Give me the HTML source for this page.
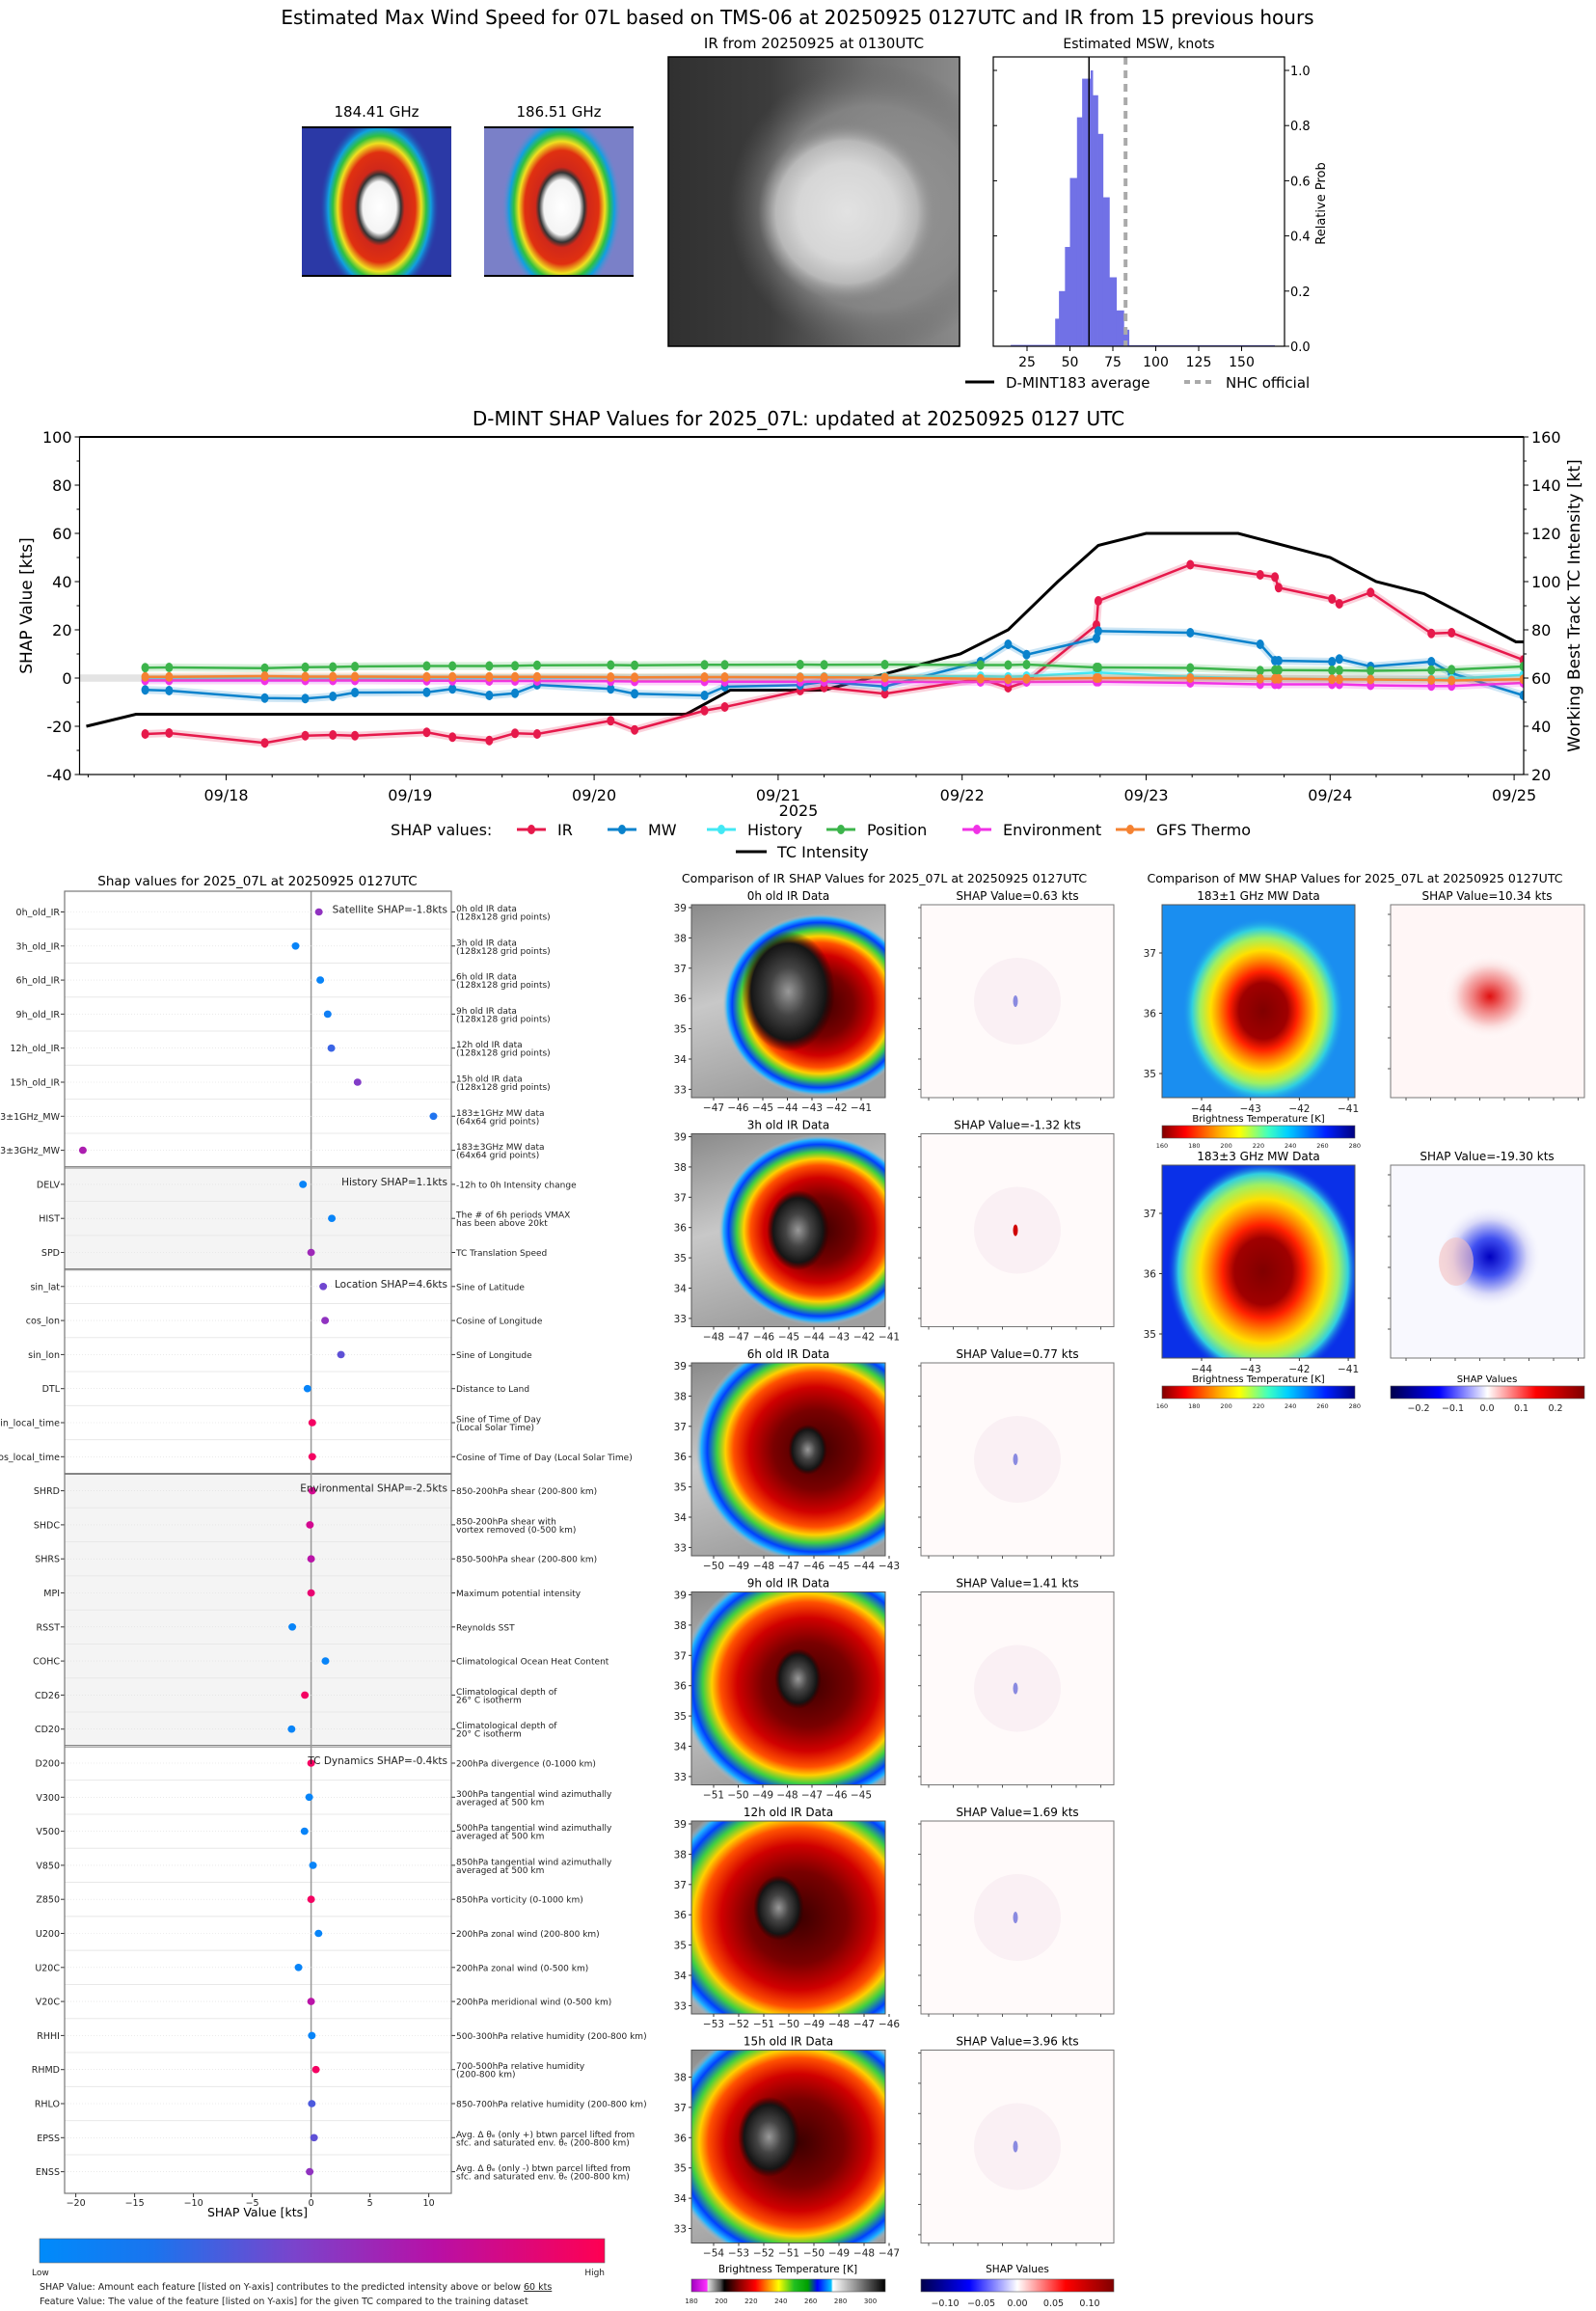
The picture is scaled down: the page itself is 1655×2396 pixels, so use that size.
<!DOCTYPE html>
<html><head><meta charset="utf-8"><title>D-MINT 07L</title>
<style>
html,body{margin:0;padding:0;background:#fff;}
svg{display:block;font-family:"DejaVu Sans","Liberation Sans",sans-serif;}
</style></head>
<body>
<svg id="fig" width="1655" height="2396" viewBox="0 0 1655 2396" xmlns="http://www.w3.org/2000/svg">
<defs id="defs"></defs>
<rect x="0" y="0" width="1655" height="2396" fill="#fff"/>
</svg>
<script>
// ===== time-series data =====
const tsDays=[-0.44,-0.31,0.21,0.43,0.58,0.70,1.09,1.23,1.43,1.57,1.69,2.09,2.22,2.60,2.71,3.12,3.25,3.58,4.10,4.25,4.35,4.73,4.74,5.24,5.62,5.70,5.72,6.01,6.05,6.22,6.55,6.66,7.05];
const irVals=[-23.2,-22.8,-26.9,-23.9,-23.6,-23.9,-22.5,-24.5,-25.9,-22.9,-23.2,-17.7,-21.5,-13.5,-12,-5.2,-3.9,-6.5,-0.3,-4,-1.5,22,32,47,42.8,41.9,37.5,32.8,30.8,35.5,18.5,18.8,7.5];
const mwVals=[-4.9,-5.2,-8.3,-8.5,-7.6,-6,-5.9,-4.5,-7.2,-6.3,-2.8,-4.5,-6.5,-7.2,-3.6,-2.9,-1.5,-3.5,6.8,14,9.7,16.5,19.5,18.8,14,7.2,7.2,6.8,7.9,4.8,6.8,2,-7.2];
const histVals=[-0.3,-0.3,-0.2,-0.2,-0.2,-0.1,-0.1,0,0,0,0.1,0.2,0.2,0.3,0.3,0.4,0.5,0.5,0.8,0.5,0.8,2.3,2.3,0.5,-0.2,-0.3,-0.3,-0.5,-0.5,-0.5,-0.5,-0.3,1.3];
const posVals=[4.3,4.4,4.1,4.5,4.6,4.8,5.0,5.0,5.0,5.1,5.3,5.4,5.3,5.5,5.5,5.6,5.5,5.6,5.4,5.4,5.6,4.4,4.4,4.2,3.1,3.3,3.3,3.2,3.2,3.0,3.3,3.5,4.8];
const envVals=[-1,-1,-1,-1,-1,-1,-1.1,-1.1,-1.2,-1.2,-1.2,-1.3,-1.4,-1.4,-1.5,-1.5,-1.5,-1.6,-1.6,-1.6,-1.6,-1.5,-1.5,-2,-2.6,-2.6,-2.6,-2.6,-2.6,-3,-3.3,-3.3,-2];
const gfsVals=[0.5,0.5,0.8,0.6,0.6,0.6,0.5,0.5,0.5,0.5,0.5,0.4,0.3,0.4,0.4,0.3,0.3,0.2,-0.3,-0.5,-0.3,0,0,0,-0.3,-0.3,-0.3,-0.5,-0.5,-0.6,-0.8,-1,-0.5];
const tcDays=[-0.76,-0.49,2.50,2.74,3.25,3.99,4.25,4.52,4.74,5.00,5.50,6.00,6.25,6.51,7.01,7.05];
const tcVals=[40,45,45,55,55,70,80,100,115,120,120,110,100,95,75,75];
const tsDateLabels=["09/18","09/19","09/20","09/21","09/22","09/23","09/24","09/25"];
const tsLeftTicks=[-40,-20,0,20,40,60,80,100];
const tsRightTicks=[20,40,60,80,100,120,140,160];
// ===== histogram data =====
const binLefts=[41.4,43.6,47.1,50.0,54.1,57.1,62.0,63.3,66.3,69.3,73.0,77.1,81.4];
const binRights=[43.6,47.1,50.0,54.1,57.1,62.0,63.3,66.3,69.3,73.0,77.1,81.4,84.4];
const binProbs=[0.10,0.20,0.36,0.61,0.83,0.97,1.0,0.91,0.77,0.54,0.25,0.13,0.06];
const tailLefts=[15.5,84.4];
const tailRights=[41.4,169.4];
const tailProbs=[0.005,0.004];
const dmintMean=[61.1];
const nhcOfficial=[82.4];
const histXTicks=[25,50,75,100,125,150];
const histYTicks=[0.0,0.2,0.4,0.6,0.8,1.0];
// ===== feature SHAP data =====
const featNames=["0h_old_IR","3h_old_IR","6h_old_IR","9h_old_IR","12h_old_IR","15h_old_IR","183±1GHz_MW","183±3GHz_MW","DELV","HIST","SPD","sin_lat","cos_lon","sin_lon","DTL","sin_local_time","cos_local_time","SHRD","SHDC","SHRS","MPI","RSST","COHC","CD26","CD20","D200","V300","V500","V850","Z850","U200","U20C","V20C","RHHI","RHMD","RHLO","EPSS","ENSS"];
const featShap=[0.66,-1.32,0.78,1.41,1.72,3.95,10.4,-19.4,-0.69,1.76,0,1.03,1.19,2.54,-0.31,0.1,0.1,0.1,-0.1,0,0,-1.6,1.22,-0.53,-1.66,0,-0.16,-0.56,0.16,0,0.63,-1.07,0,0.06,0.41,0.06,0.25,-0.12];
const featValue=[0.55,0.05,0.05,0.1,0.3,0.5,0.2,0.65,0.05,0.05,0.6,0.45,0.55,0.4,0.05,0.95,0.95,0.8,0.8,0.7,0.9,0.05,0.05,0.95,0.05,0.95,0.05,0.05,0.05,0.95,0.05,0.05,0.7,0.05,0.95,0.35,0.4,0.55];
const featDesc=[["0h old IR data","(128x128 grid points)"],["3h old IR data","(128x128 grid points)"],["6h old IR data","(128x128 grid points)"],["9h old IR data","(128x128 grid points)"],["12h old IR data","(128x128 grid points)"],["15h old IR data","(128x128 grid points)"],["183±1GHz MW data","(64x64 grid points)"],["183±3GHz MW data","(64x64 grid points)"],["-12h to 0h Intensity change"],["The # of 6h periods VMAX","has been above 20kt"],["TC Translation Speed"],["Sine of Latitude"],["Cosine of Longitude"],["Sine of Longitude"],["Distance to Land"],["Sine of Time of Day","(Local Solar Time)"],["Cosine of Time of Day (Local Solar Time)"],["850-200hPa shear (200-800 km)"],["850-200hPa shear with","vortex removed (0-500 km)"],["850-500hPa shear (200-800 km)"],["Maximum potential intensity"],["Reynolds SST"],["Climatological Ocean Heat Content"],["Climatological depth of","26° C isotherm"],["Climatological depth of","20° C isotherm"],["200hPa divergence (0-1000 km)"],["300hPa tangential wind azimuthally","averaged at 500 km"],["500hPa tangential wind azimuthally","averaged at 500 km"],["850hPa tangential wind azimuthally","averaged at 500 km"],["850hPa vorticity (0-1000 km)"],["200hPa zonal wind (200-800 km)"],["200hPa zonal wind (0-500 km)"],["200hPa meridional wind (0-500 km)"],["500-300hPa relative humidity (200-800 km)"],["700-500hPa relative humidity","(200-800 km)"],["850-700hPa relative humidity (200-800 km)"],["Avg. Δ θₑ (only +) btwn parcel lifted from","sfc. and saturated env. θₑ (200-800 km)"],["Avg. Δ θₑ (only -) btwn parcel lifted from","sfc. and saturated env. θₑ (200-800 km)"]];
const groupStart=[0,8,11,17,25];
const groupEnd=[7,10,16,24,37];
const groupLabels=["Satellite SHAP=-1.8kts","History SHAP=1.1kts","Location SHAP=4.6kts","Environmental SHAP=-2.5kts","TC Dynamics SHAP=-0.4kts"];
const groupShaded=[false,true,false,true,false];
const shapXTicks=[-20,-15,-10,-5,0,5,10];
// ===== IR comparison panels =====
const irRowTitles=["0h old IR Data","3h old IR Data","6h old IR Data","9h old IR Data","12h old IR Data","15h old IR Data"];
const irShapTitles=["SHAP Value=0.63 kts","SHAP Value=-1.32 kts","SHAP Value=0.77 kts","SHAP Value=1.41 kts","SHAP Value=1.69 kts","SHAP Value=3.96 kts"];
const irLonStart=[-47,-48,-50,-51,-53,-54];
const irLonEnd=[-41,-41,-43,-45,-46,-47];
const irLatTop=[39,39,39,39,39,38];

const svg=document.getElementById('fig');
const defs=document.getElementById('defs');
const NS='http://www.w3.org/2000/svg';
function E(tag,attrs,parent){const e=document.createElementNS(NS,tag);for(const k in attrs)e.setAttribute(k,attrs[k]);(parent||svg).appendChild(e);return e;}
function T(x,y,s,attrs,parent){const a=Object.assign({x:x,y:y,'font-size':12,fill:'#000'},attrs||{});const e=E('text',a,parent);e.textContent=s;return e;}
function G(parent){return E('g',{},parent);}
function mns(v){return (v<0?'\u2212':'')+Math.abs(v);}
function clipG(id,x,y,w,h,parent){const cp=E('clipPath',{id:id},defs);E('rect',{x:x,y:y,width:w,height:h},cp);return E('g',{'clip-path':'url(#'+id+')'},parent);}

let el;
el=T(827,25,'Estimated Max Wind Speed for 07L based on TMS-06 at 20250925 0127UTC and IR from 15 previous hours',{'font-size':20,'text-anchor':'middle'});



function radial(id,stops,cx,cy,rx){const g=E('radialGradient',{id:id,cx:cx,cy:cy,r:rx},defs);stops.forEach(s=>E('stop',{offset:s[0],'stop-color':s[1],'stop-opacity':s.length>2?s[2]:1},g));return g;}
function linear(id,stops,x2,y2){const g=E('linearGradient',{id:id,x1:0,y1:0,x2:x2===undefined?1:x2,y2:y2===undefined?0:y2},defs);stops.forEach(s=>E('stop',{offset:s[0],'stop-color':s[1],'stop-opacity':s.length>2?s[2]:1},g));return g;}

// MW top panels
radial('mw184',[[0,'#fff'],[0.28,'#f4f4f4'],[0.36,'#333'],[0.42,'#d0281a'],[0.6,'#e03010'],[0.7,'#f0e020'],[0.78,'#30c040'],[0.86,'#10a0e0'],[1,'#2a3aa8',0]],'0.5','0.5','0.5');
radial('mw186',[[0,'#fff'],[0.3,'#f4f4f4'],[0.38,'#333'],[0.44,'#d0281a'],[0.62,'#e03010'],[0.72,'#f0e020'],[0.8,'#30c040'],[0.88,'#10a0e0'],[1,'#7b82cc',0]],'0.5','0.5','0.5');
[[313,468,'#2b39a6','mw184','184.41 GHz','mw-184-panel'],[502,657,'#7a80c8','mw186','186.51 GHz','mw-186-panel']].forEach((p,i)=>{
  const g=G();
  
  
  const cg=clipG('mwtop'+i,p[0],132,p[1]-p[0],154,g);
  E('rect',{x:p[0],y:132,width:p[1]-p[0],height:154,fill:p[2]},cg);
  E('ellipse',{cx:(p[0]+p[1])/2+3,cy:215,rx:62,ry:95,fill:'url(#'+p[3]+')'},cg);
  E('line',{x1:p[0],x2:p[1],y1:132,y2:132,stroke:'#000','stroke-width':2},g);
  E('line',{x1:p[0],x2:p[1],y1:286,y2:286,stroke:'#000','stroke-width':2},g);
  const t=T((p[0]+p[1])/2,121,p[4],{'font-size':15,'text-anchor':'middle'},g);
  
  
});
// IR top panel
linear('irbg',[[0,'#303030'],[0.35,'#3c3c3c'],[0.7,'#707070'],[1,'#8a8a8a']]);
radial('irblob',[[0,'#e2e2e2'],[0.55,'#d6d6d6'],[0.8,'#b8b8b8'],[1,'#909090',0]],'0.5','0.5','0.5');
radial('irhalo',[[0,'#a0a0a0'],[0.7,'#8a8a8a'],[1,'#606060',0]],'0.5','0.5','0.5');
el=G();


const irTop=clipG('irtopclip',693,59,302,300,el);
E('rect',{x:693,y:59,width:302,height:300,fill:'url(#irbg)'},irTop);
E('ellipse',{cx:905,cy:215,rx:150,ry:150,fill:'url(#irhalo)',opacity:0.8},irTop);
E('ellipse',{cx:878,cy:220,rx:92,ry:92,fill:'url(#irblob)'},irTop);
E('rect',{x:693,y:59,width:302,height:300,fill:'none',stroke:'#000','stroke-width':1.5},el);
el=T(844,50,'IR from 20250925 at 0130UTC',{'font-size':15,'text-anchor':'middle'});



// histogram
const HB0=1030,HB1=1332,HT=59,HBt=359;
function HX(k){return 1020.5+k*1.78;}
function HY(p){return HBt-p*(HBt-73);}
const hg=G();


const hc=clipG('histclip',HB0,HT,HB1-HB0,HBt-HT,hg);
binLefts.forEach((b,i)=>{
  const r=E('rect',{x:HX(b),y:HY(binProbs[i]),width:HX(binRights[i])-HX(b)+0.3,height:HBt-HY(binProbs[i]),fill:'#7171e6'},hc);
  
  
});
tailLefts.forEach((b,i)=>{
  const r=E('rect',{x:HX(b),y:HY(tailProbs[i]),width:HX(tailRights[i])-HX(b),height:HBt-HY(tailProbs[i]),fill:'#7171e6'},hc);
  
  
});
el=E('line',{x1:HX(dmintMean[0]),x2:HX(dmintMean[0]),y1:HT,y2:HBt,stroke:'#000','stroke-width':1.5},hg);


el=E('line',{x1:HX(nhcOfficial[0]),x2:HX(nhcOfficial[0]),y1:HT,y2:HBt,stroke:'#aaa','stroke-width':4,'stroke-dasharray':'8,6'},hg);


E('rect',{x:HB0,y:HT,width:HB1-HB0,height:HBt-HT,fill:'none',stroke:'#000','stroke-width':1.2},hg);
histXTicks.forEach(v=>{E('line',{x1:HX(v),x2:HX(v),y1:HBt,y2:HBt+5,stroke:'#000'},hg);
  const t=T(HX(v),HBt+21,String(v),{'font-size':14,'text-anchor':'middle'},hg);
  
  });
histYTicks.forEach(v=>{E('line',{x1:HB1,x2:HB1+5,y1:HY(v),y2:HY(v),stroke:'#000'},hg);
  E('line',{x1:HB0,x2:HB0+4,y1:HY(v),y2:HY(v),stroke:'#000'},hg);
  const t=T(HB1+6,HY(v)+5,v.toFixed(1),{'font-size':13},hg);
  
  });
el=T(1181,50,'Estimated MSW, knots',{'font-size':14,'text-anchor':'middle'},hg);


el=T(0,0,'Relative Prob',{'font-size':13,'text-anchor':'middle',transform:'translate(1374,211) rotate(-90)'},hg);


el=E('line',{x1:1001,x2:1031,y1:396,y2:396,stroke:'#000','stroke-width':3});


el=T(1043,402,'D-MINT183 average',{'font-size':15});


el=E('line',{x1:1228,x2:1258,y1:396,y2:396,stroke:'#aaa','stroke-width':4,'stroke-dasharray':'6,5'});


el=T(1271,402,'NHC official',{'font-size':15});



// ================= TIME SERIES =================
const AX0=82.5,AX1=1580,AY0=453,AY1=803;
function X(d){return 234.5+d*190.8;}
function Y(v){return AY0+(100-v)*(AY1-AY0)/140;}
function YR(v){return Y(v-60);}
const tsg=G();


el=T(828,441,'D-MINT SHAP Values for 2025_07L: updated at 20250925 0127 UTC',{'font-size':20,'text-anchor':'middle'},tsg);


el=E('rect',{x:AX0,y:Y(1.5),width:AX1-AX0,height:Y(-1.5)-Y(1.5),fill:'#e4e4e4'},tsg);


const plotG=clipG('tsclip',AX0,AY0,AX1-AX0,AY1-AY0,tsg);
const seriesList=[['ir',irVals,'#e6194b'],['mw',mwVals,'#0a82cc'],['history',histVals,'#42e8f4'],['position',posVals,'#3cb44b'],['environment',envVals,'#f032e6'],['gfs-thermo',gfsVals,'#f58231']];
el=E('polyline',{points:tcDays.map((d,i)=>X(d)+','+YR(tcVals[i])).join(' '),fill:'none',stroke:'#000','stroke-width':3},plotG);


seriesList.forEach(s=>{
  const g=G(plotG);
  
  
  const pts=tsDays.map((d,i)=>X(d)+','+Y(s[1][i])).join(' ');
  E('polyline',{points:pts,fill:'none',stroke:s[2],'stroke-width':8,'stroke-opacity':0.2,'stroke-linejoin':'round'},g);
  const ln=E('polyline',{points:pts,fill:'none',stroke:s[2],'stroke-width':2.5,'stroke-linejoin':'round'},g);
  
  
  tsDays.forEach((d,i)=>{
    const c=E('ellipse',{cx:X(d),cy:Y(s[1][i]),rx:4,ry:5},g);
    c.setAttribute('fill',s[2]);
    
    
  });
});
E('rect',{x:AX0,y:AY0,width:AX1-AX0,height:AY1-AY0,fill:'none',stroke:'#000','stroke-width':1.2},tsg);
E('line',{x1:AX0,x2:AX1,y1:AY0,y2:AY0,stroke:'#000','stroke-width':2},tsg);
tsLeftTicks.forEach(v=>{E('line',{x1:AX0-5,x2:AX0,y1:Y(v),y2:Y(v),stroke:'#000'},tsg);
  const t=T(AX0-8,Y(v)+6,String(v),{'font-size':16,'text-anchor':'end'},tsg);
  
  
  if(v<100)E('line',{x1:AX0-3,x2:AX0,y1:Y(v+10),y2:Y(v+10),stroke:'#000'},tsg);});
tsRightTicks.forEach(v=>{E('line',{x1:AX1,x2:AX1+5,y1:YR(v),y2:YR(v),stroke:'#000'},tsg);
  const t=T(AX1+8,YR(v)+6,String(v),{'font-size':16},tsg);
  
  
  if(v<160)E('line',{x1:AX1,x2:AX1+3,y1:YR(v+10),y2:YR(v+10),stroke:'#000'},tsg);});
tsDateLabels.forEach((s,i)=>{E('line',{x1:X(i),x2:X(i),y1:AY1,y2:AY1+6,stroke:'#000'},tsg);
  const t=T(X(i),AY1+27,s,{'font-size':16,'text-anchor':'middle'},tsg);
  
  });
for(let q=-3;q<=28;q++){const xx=X(q/4);if(xx>=AX0&&xx<=AX1&&q%4!==0)E('line',{x1:xx,x2:xx,y1:AY1,y2:AY1+3,stroke:'#000'},tsg);}
el=T(828,846,'2025',{'font-size':16,'text-anchor':'middle'},tsg);


el=T(0,0,'SHAP Value [kts]',{'font-size':17,'text-anchor':'middle',transform:'translate(33,628) rotate(-90)'},tsg);


el=T(0,0,'Working Best Track TC Intensity [kt]',{'font-size':17,'text-anchor':'middle',transform:'translate(1638,628) rotate(-90)'},tsg);


const lg=G(tsg);


T(405,866,'SHAP values:',{'font-size':16},lg);
const legX=[551,645,748,872,1013,1172];
const legNames=['IR','MW','History','Position','Environment','GFS Thermo'];
seriesList.forEach((s,i)=>{
  const e1=E('line',{x1:legX[i]-15,x2:legX[i]+15,y1:860,y2:860,stroke:s[2],'stroke-width':3},lg);
  
  
  E('ellipse',{cx:legX[i],cy:860,rx:4,ry:5,fill:s[2]},lg);
  const t=T(legX[i]+27,866,legNames[i],{'font-size':16},lg);
  
  
});
el=E('line',{x1:763,x2:795,y1:883,y2:883,stroke:'#000','stroke-width':3},lg);


el=T(806,889,'TC Intensity',{'font-size':16},lg);



// ================= FEATURE SHAP PANEL =================
const FX0=67,FX1=468,FY0=924,FY1=2274;
function FX(v){return 322.6+v*12.2;}
function FY(i){return 945.5+i*35.3;}
function shapColor(t){const st=[[0,[0,138,251]],[0.25,[40,110,236]],[0.5,[130,60,200]],[0.75,[200,10,160]],[1,[255,0,82]]];
  for(let k=0;k<st.length-1;k++){if(t<=st[k+1][0]){const f=(t-st[k][0])/(st[k+1][0]-st[k][0]);const c=st[k][1].map((a,j)=>Math.round(a+(st[k+1][1][j]-a)*f));return 'rgb('+c.join(',')+')';}}return 'rgb(255,0,82)';}
const fg=G();


el=T(267,918,'Shap values for 2025_07L at 20250925 0127UTC',{'font-size':13.5,'text-anchor':'middle'},fg);


groupStart.forEach((s,gi)=>{
  const top=gi===0?FY0:FY(s)-17.65, bot=gi===groupStart.length-1?FY1:FY(groupEnd[gi])+17.65;
  if(groupShaded[gi]){const r=E('rect',{x:FX0,y:top,width:FX1-FX0,height:bot-top,fill:'#f4f4f4'},fg);
    
    }
  if(gi>0)E('line',{x1:FX0,x2:FX1,y1:top,y2:top,stroke:'#222','stroke-width':2},fg);
});
for(let i=0;i<featNames.length-1;i++)E('line',{x1:FX0,x2:FX1,y1:FY(i)+17.65,y2:FY(i)+17.65,stroke:'#e8e8e8','stroke-width':1},fg);
E('line',{x1:FX(0),x2:FX(0),y1:FY0,y2:FY1,stroke:'#999','stroke-width':1.5},fg);
featNames.forEach((n,i)=>{
  E('line',{x1:FX0,x2:FX1,y1:FY(i),y2:FY(i),stroke:'#ddd','stroke-width':0.6,'stroke-dasharray':'1,2'},fg);
  E('line',{x1:FX0-4,x2:FX0,y1:FY(i),y2:FY(i),stroke:'#333'},fg);
  E('line',{x1:FX1,x2:FX1+4,y1:FY(i),y2:FY(i),stroke:'#333'},fg);
  const t=T(62,FY(i)+3.5,n,{'font-size':9.5,'text-anchor':'end',fill:'#222'},fg);
  
  
  const d=featDesc[i];
  d.forEach((line,k)=>{
    const yy=d.length===1?FY(i)+3.5:FY(i)-0.5+k*8.5;
    const tt=T(473,yy,line,{'font-size':9,fill:'#222'},fg);
    
    
  });
  const c=E('ellipse',{cx:FX(featShap[i]),cy:FY(i),rx:4,ry:3.8},fg);
  c.setAttribute('fill',shapColor(featValue[i]));
  
  
});
groupStart.forEach((s,gi)=>{
  const t=T(464,FY(s)+1,groupLabels[gi],{'font-size':10.5,'text-anchor':'end',fill:'#222'},fg);
  
  
});
E('rect',{x:FX0,y:FY0,width:FX1-FX0,height:FY1-FY0,fill:'none',stroke:'#777','stroke-width':1.2},fg);
shapXTicks.forEach(v=>{E('line',{x1:FX(v),x2:FX(v),y1:FY1,y2:FY1+4,stroke:'#333'},fg);
  const t=T(FX(v),FY1+13,mns(v),{'font-size':9.5,'text-anchor':'middle',fill:'#222'},fg);
  
  });
el=T(267,2298,'SHAP Value [kts]',{'font-size':12.5,'text-anchor':'middle'},fg);


linear('shapcb',[[0,'#008bfb'],[0.2,'#1a74ee'],[0.45,'#7a44cc'],[0.7,'#b810a6'],[1,'#ff0052']]);
el=E('rect',{x:41,y:2321,width:586,height:25,fill:'url(#shapcb)',stroke:'#666','stroke-width':0.6},fg);


el=T(33,2359,'Low',{'font-size':9,fill:'#222'},fg);


el=T(627,2359,'High',{'font-size':9,fill:'#222','text-anchor':'end'},fg);


el=T(41,2374,'SHAP Value: Amount each feature [listed on Y-axis] contributes to the predicted intensity above or below ',{'font-size':9.5,fill:'#222'},fg);
const ts=E('tspan',{'text-decoration':'underline'},el);ts.textContent='60 kts';


el=T(41,2389,'Feature Value: The value of the feature [listed on Y-axis] for the given TC compared to the training dataset',{'font-size':9.5,fill:'#222'},fg);



// ================= IR COMPARISON =================
const irg=G();


el=T(917,915,'Comparison of IR SHAP Values for 2025_07L at 20250925 0127UTC',{'font-size':12.5,'text-anchor':'middle'},irg);


const irCenters=[[0.66,0.52,0.5],[0.66,0.5,0.52],[0.64,0.45,0.62],[0.6,0.48,0.66],[0.55,0.5,0.72],[0.55,0.48,0.68]];
const irCore=[[0.5,0.45,0.24],[0.55,0.5,0.16],[0.6,0.45,0.1],[0.55,0.45,0.12],[0.45,0.45,0.13],[0.4,0.45,0.16]];
linear('graybg',[[0,'#8a8a8a'],[0.5,'#c8c8c8'],[1,'#a0a0a0']],0.3,1);
for(let r=0;r<6;r++){
  const top=938+r*237.5, L=717, W=201, H=200;
  const gid='irg'+r;
  radial(gid,[[0,'#3a0000'],[0.35,'#7a0000'],[0.55,'#d00000'],[0.68,'#ff5000'],[0.75,'#ffd000'],[0.82,'#40d040'],[0.9,'#0040ff'],[0.95,'#20b0ff'],[1,'#c0c0c0',0]],'0.5','0.5','0.5');
  radial('irc'+r,[[0,'#999'],[0.4,'#444'],[0.8,'#151515'],[1,'#200000',0]],'0.5','0.5','0.5');
  const pg=G(irg);
  
  
  const ig=clipG('irclip'+r,L,top,W,H,pg);
  E('rect',{x:L,y:top,width:W,height:H,fill:'url(#graybg)'},ig);
  const c=irCenters[r];
  E('ellipse',{cx:L+W*c[0],cy:top+H*c[1],rx:W*c[2],ry:H*c[2]*0.95,fill:'url(#'+gid+')'},ig);
  const k=irCore[r];
  E('ellipse',{cx:L+W*k[0],cy:top+H*k[1],rx:W*k[2],ry:H*k[2]*1.3,fill:'url(#irc'+r+')'},ig);
  E('rect',{x:L,y:top,width:W,height:H,fill:'none',stroke:'#555','stroke-width':1},pg);
  let t=T(L+W/2,top-5,irRowTitles[r],{'font-size':12,'text-anchor':'middle'},irg);
  
  
  const nl=irLonEnd[r]-irLonStart[r];
  for(let j=0;j<=nl;j++){const lon=irLonStart[r]+j;const xx=740+j*(nl===6?25.5:26);
    E('line',{x1:xx,x2:xx,y1:top+H,y2:top+H+3,stroke:'#333'},irg);
    const tl=T(xx,top+H+14,mns(lon),{'font-size':10.5,'text-anchor':'middle',fill:'#222'},irg);
    
    }
  const lt=irLatTop[r];
  for(let lat=lt;lat>=33;lat--){const yy=top+(r===5?28:3)+(lt-lat)*31.4;
    E('line',{x1:L-3,x2:L,y1:yy,y2:yy,stroke:'#333'},irg);
    const tl=T(L-5,yy+4,String(lat),{'font-size':10.5,'text-anchor':'end',fill:'#222'},irg);
    
    }
  const sg=G(irg);
  
  
  E('rect',{x:955,y:top,width:200,height:H,fill:'#fffafa',stroke:'#777','stroke-width':1},sg);
  E('ellipse',{cx:1055,cy:top+100,rx:45,ry:45,fill:'#f6eaf0',opacity:0.6},sg);
  E('ellipse',{cx:1053,cy:top+100,rx:2.5,ry:6,fill:r===1?'#d00000':'#8a8ae0'},sg);
  for(let j=0;j<8;j++)E('line',{x1:963+j*25.5,x2:963+j*25.5,y1:top+H,y2:top+H+3,stroke:'#555'},sg);
  for(let j=0;j<7;j++)E('line',{x1:952,x2:955,y1:top+3+j*31.4,y2:top+3+j*31.4,stroke:'#555'},sg);
  t=T(1055,top-5,irShapTitles[r],{'font-size':12,'text-anchor':'middle'},irg);
  
  
}
linear('ircb',[[0,'#a000c0'],[0.08,'#ff30ff'],[0.085,'#e0e0e0'],[0.15,'#505050'],[0.17,'#000'],[0.25,'#8b0000'],[0.33,'#ff0000'],[0.4,'#ff9900'],[0.45,'#ffff00'],[0.53,'#20c020'],[0.6,'#00a000'],[0.65,'#0000ff'],[0.72,'#00c0ff'],[0.73,'#ffffff'],[0.85,'#909090'],[1,'#000']]);
el=E('rect',{x:717,y:2363,width:201,height:13,fill:'url(#ircb)',stroke:'#555','stroke-width':0.6});


el=T(817,2356,'Brightness Temperature [K]',{'font-size':10.5,'text-anchor':'middle'});


[180,200,220,240,260,280,300].forEach(v=>{const t=T(717+(v-180)*201/130,2388,String(v),{'font-size':7,'text-anchor':'middle',fill:'#222'});
  
  });
linear('seis',[[0,'#00004c'],[0.25,'#0000ff'],[0.5,'#ffffff'],[0.75,'#ff0000'],[1,'#800000']]);
el=E('rect',{x:955,y:2363,width:200,height:13,fill:'url(#seis)',stroke:'#555','stroke-width':0.6});


el=T(1055,2356,'SHAP Values',{'font-size':10.5,'text-anchor':'middle'});


[-0.10,-0.05,0.00,0.05,0.10].forEach((v,i)=>{const t=T(980+i*37.5,2391,(v<0?'\u2212':'')+Math.abs(v).toFixed(2),{'font-size':9.5,'text-anchor':'middle',fill:'#222'});
  
  });

// ================= MW COMPARISON =================
const mwg=G();


el=T(1405,915,'Comparison of MW SHAP Values for 2025_07L at 20250925 0127UTC',{'font-size':12.5,'text-anchor':'middle'},mwg);


const mwTops=[938,1208];
const mwTitles=['183±1 GHz MW Data','183±3 GHz MW Data'];
const mwShapTitles=['SHAP Value=10.34 kts','SHAP Value=-19.30 kts'];
const mwBg=['#1a8ef0','#0a30e8'];
const mwR=[0.42,0.5];
linear('jetr',[[0,'#800000'],[0.12,'#ff0000'],[0.3,'#ffb000'],[0.4,'#ffff00'],[0.55,'#40ffc0'],[0.65,'#00d0ff'],[0.85,'#0020ff'],[1,'#000080']]);
mwTops.forEach((top,r)=>{
  radial('mwj'+r,[[0,'#800000'],[0.3,'#a00000'],[0.42,'#ff2000'],[0.55,'#ff9000'],[0.65,'#ffe000'],[0.78,'#a0f060'],[0.88,'#30d0e0'],[1,mwBg[r],0]],'0.5','0.5','0.5');
  const pg=G(mwg);
  
  
  const ig=clipG('mwclip'+r,1205,top,200,200,pg);
  E('rect',{x:1205,y:top,width:200,height:200,fill:mwBg[r]},ig);
  E('ellipse',{cx:1310,cy:top+110,rx:200*mwR[r],ry:200*mwR[r]*1.15,fill:'url(#mwj'+r+')'},ig);
  E('rect',{x:1205,y:top,width:200,height:200,fill:'none',stroke:'#555'},pg);
  let t=T(1305,top-5,mwTitles[r],{'font-size':12,'text-anchor':'middle'},mwg);
  
  
  [-44,-43,-42,-41].forEach((v,i)=>{const xx=1246+i*50.7;E('line',{x1:xx,x2:xx,y1:top+200,y2:top+203,stroke:'#333'},mwg);
    const tl=T(xx,top+215,mns(v),{'font-size':10.5,'text-anchor':'middle',fill:'#222'},mwg);
    
    });
  [37,36,35].forEach((v,i)=>{const yy=top+50+i*62.5;E('line',{x1:1202,x2:1205,y1:yy,y2:yy,stroke:'#333'},mwg);
    const tl=T(1199,yy+4,String(v),{'font-size':10.5,'text-anchor':'end',fill:'#222'},mwg);
    
    });
  el=E('rect',{x:1205,y:top+229,width:200,height:13,fill:'url(#jetr)',stroke:'#555','stroke-width':0.6},mwg);
  
  
  t=T(1305,top+225,'Brightness Temperature [K]',{'font-size':10,'text-anchor':'middle'},mwg);
  
  
  [160,180,200,220,240,260,280].forEach((v,i)=>{const tl=T(1205+i*33.3,top+252,String(v),{'font-size':6.5,'text-anchor':'middle',fill:'#222'},mwg);
    
    });
  const sg=G(mwg);
  
  
  radial('mws'+r,r===0?[[0,'#e01010'],[0.35,'#f08080'],[0.7,'#fbe0e0'],[1,'#fff',0]]:[[0,'#0000c0'],[0.35,'#4050f0'],[0.7,'#d8d8f8'],[1,'#fff',0]],'0.5','0.5','0.5');
  E('rect',{x:1442,y:top,width:201,height:200,fill:r===0?'#fff6f6':'#f8f8fe',stroke:'#777'},sg);
  E('ellipse',{cx:1545,cy:top+95,rx:r===0?50:55,ry:r===0?45:55,fill:'url(#mws'+r+')'},sg);
  if(r===1)E('ellipse',{cx:1510,cy:top+100,rx:18,ry:25,fill:'#f3c0c0',opacity:0.6},sg);
  for(let j=0;j<8;j++)E('line',{x1:1458+j*25.5,x2:1458+j*25.5,y1:top+200,y2:top+203,stroke:'#555'},sg);
  for(let j=0;j<6;j++)E('line',{x1:1439,x2:1442,y1:top+10+j*32,y2:top+10+j*32,stroke:'#555'},sg);
  t=T(1542,top-5,mwShapTitles[r],{'font-size':12,'text-anchor':'middle'},mwg);
  
  
});
el=E('rect',{x:1442,y:1437,width:201,height:13,fill:'url(#seis)',stroke:'#555','stroke-width':0.6},mwg);


el=T(1542,1433,'SHAP Values',{'font-size':10,'text-anchor':'middle'},mwg);


['\u22120.2','\u22120.1','0.0','0.1','0.2'].forEach((s,i)=>{const t=T(1471+i*35.5,1463,s,{'font-size':9.5,'text-anchor':'middle',fill:'#222'},mwg);
  
  });
</script>
</body></html>
